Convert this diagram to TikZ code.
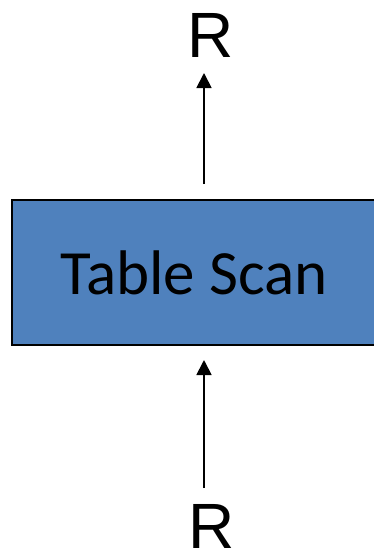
\documentclass[tikz,border=0pt]{standalone}
\usepackage{fontspec}
\setmainfont{Liberation Sans}
\newfontfamily\calib{Carlito}
\usetikzlibrary{arrows.meta}
\definecolor{boxblue}{RGB}{79,129,189}
\tikzset{
  opbox/.style={draw=black, line width=2pt, fill=boxblue, minimum width=364pt, minimum height=145pt, inner sep=0pt, font=\calib\fontsize{63}{68}\selectfont},
  rlabel/.style={anchor=base, inner sep=0pt, font=\fontsize{64}{66}\selectfont},
  flow/.style={line width=1.8pt, -{Triangle[length=15pt,width=15pt]}}
}
\begin{document}
\begin{tikzpicture}[x=1pt,y=1pt]
  \clip (0,0) rectangle (374,-554);
  \fill[white] (0,0) rectangle (374,-554);
  \node[opbox] (scan) at (194,-272.5) {Table Scan};
  \node[rlabel] (rout) at (211,-57) {R};
  \node[rlabel] (rin) at (212,-548) {R};
  \coordinate (outstart) at (204,-184);
  \coordinate (outend) at (204,-73);
  \coordinate (instart) at (204,-488);
  \coordinate (inend) at (204,-360);
  \draw[flow] (outstart) -- (outend);
  \draw[flow] (instart) -- (inend);
\end{tikzpicture}
\end{document}
